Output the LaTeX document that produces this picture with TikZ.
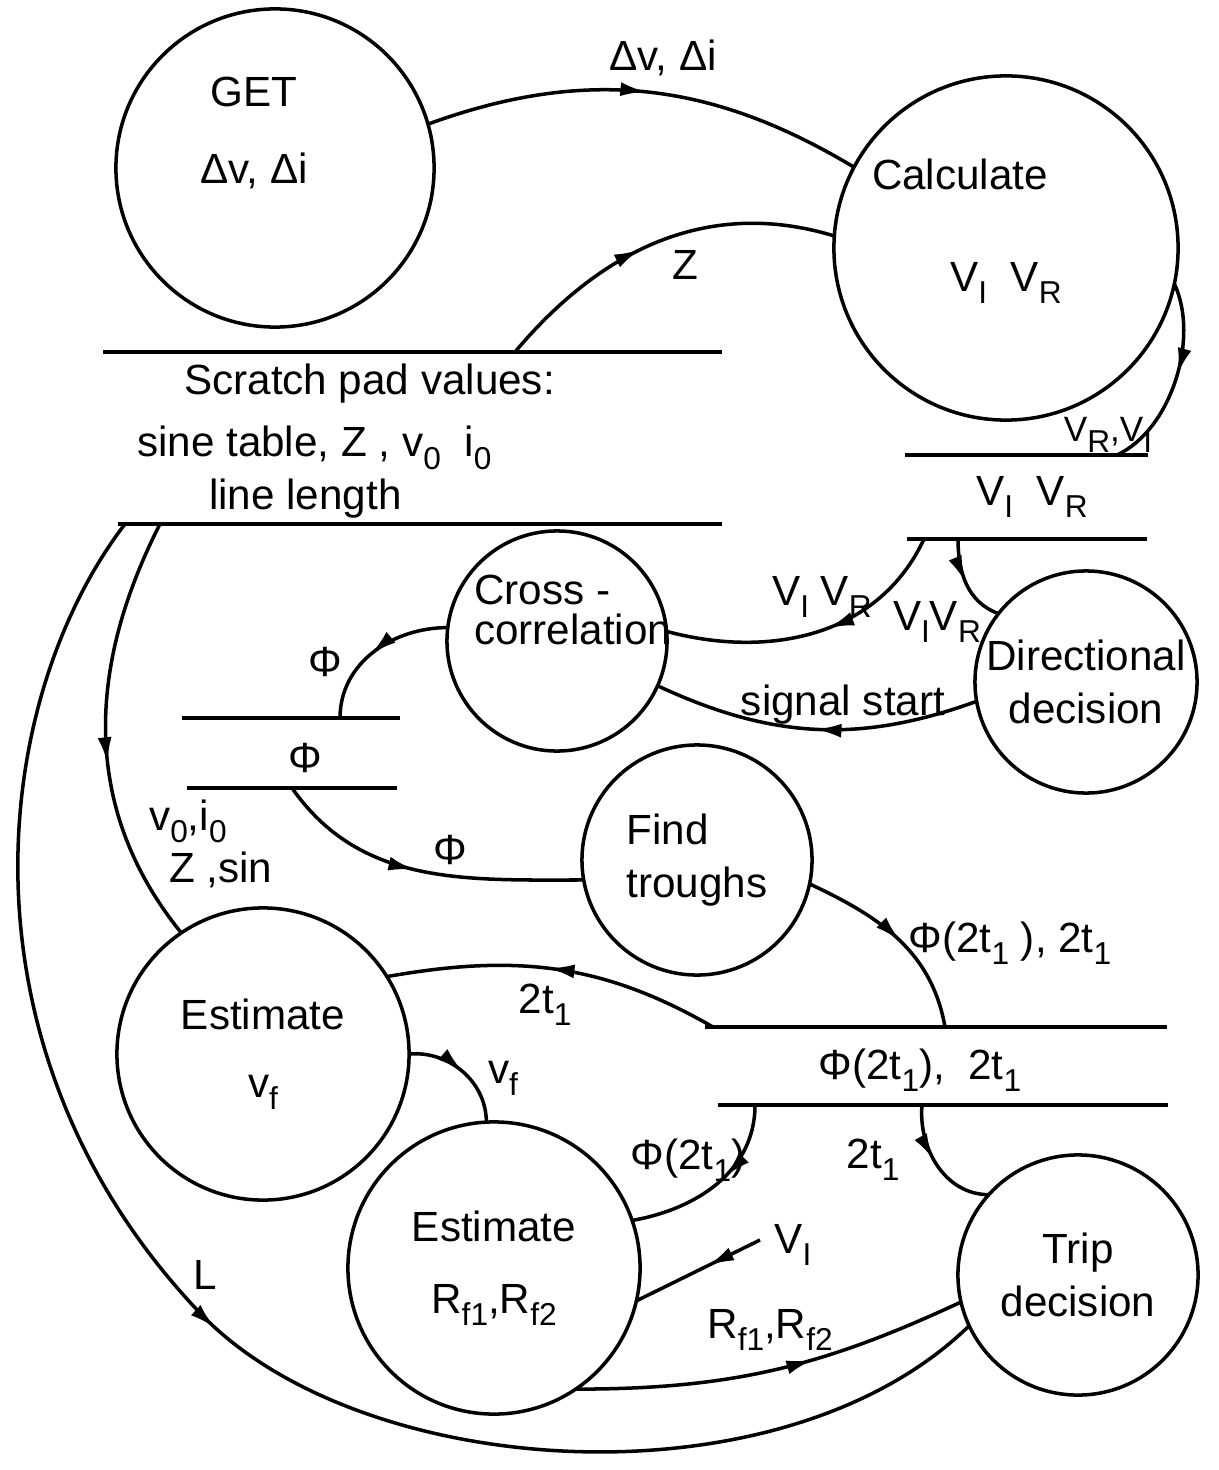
\documentclass[tikz,border=0pt]{standalone}
\usepackage{fontspec}
\setmainfont{Liberation Sans}
\usetikzlibrary{arrows.meta,decorations.markings}
\newcommand{\sbs}[1]{\raisebox{-0.55ex}{\fontsize{9}{10}\selectfont #1}}

\begin{document}
\begin{tikzpicture}[
    x=0.01cm, y=-0.01cm,
    font=\fontsize{12}{15}\selectfont,
    % processes, stores and labels
    proc/.style={circle, draw, line width=1pt, inner sep=0pt, outer sep=0pt, align=center},
    store/.style={draw, line width=1.1pt},
    lbl/.style={inner sep=1pt, align=center},
    % data flows with an arrow on the way
    flow/.style={draw, line width=1pt, postaction={decorate, decoration={markings,
        mark=at position #1 with {\arrow{Latex[length=2.6mm, width=1.4mm]}}}}},
    flow/.default=0.5,
]
\useasboundingbox (0,0) rectangle (1219,1470);

% =========================================================
% Data stores
% =========================================================
% scratch pad
\draw[store] (103,352) -- (722,352);
\draw[store] (118,524) -- (722,524);
\node[lbl, anchor=west, align=left] (padtxt) at (133,441)
    {\hspace{0.47cm}Scratch pad values:\\[0.1cm]
     sine table, Z , v\sbs{0}\ \ i\sbs{0}\\
     \hspace{0.72cm}line length};

% V_I V_R
\draw[store] (905,455) -- (1148,455);
\draw[store] (907,539) -- (1147,539);
\node[lbl] (vstxt) at (1032,497) {V\sbs{I}\ \ V\sbs{R}};

% phi
\draw[store] (182,718) -- (400,718);
\draw[store] (187,788) -- (397,788);
\node[lbl] (phitxt) at (305,758) {Φ};

% troughs
\draw[store] (705,1027) -- (1167,1027);
\draw[store] (718,1105) -- (1168,1105);
\node[lbl] (trtxt) at (920,1070) {Φ(2t\sbs{1}),\ \ 2t\sbs{1}};

% taps on the store lines
\coordinate (padZ)  at (515,352);
\coordinate (padL)  at (125,524);
\coordinate (padV)  at (160,524);
\coordinate (vsIn)  at (1117,455);
\coordinate (vsXc)  at (924,539);
\coordinate (vsDir) at (958,539);
\coordinate (phiIn) at (340,718);
\coordinate (phiOut) at (292,788);
\coordinate (trIn)  at (945,1027);
\coordinate (trT)   at (713,1027);
\coordinate (trPhi) at (755,1105);
\coordinate (trTt)  at (922,1105);
\coordinate (vI)    at (760,1240);

% =========================================================
% Processes
% =========================================================
\node[proc, minimum size=3.18cm] (get) at (275,168) {};
\node[lbl] (gettxt) at (254,133) {GET\\[0.24cm]Δv, Δi};

\node[proc, minimum size=3.44cm] (calc) at (1006,248) {};
\node[lbl] (calctxt) at (960,174) {Calculate};
\node[lbl] (calcv) at (1006,283) {V\sbs{I}\ \ V\sbs{R}};

\node[proc, minimum size=2.2cm] (xc) at (557,641) {};
\node[lbl, anchor=west, align=left] (xctxt) at (470,610) {Cross -\\[-0.12cm]correlation};

\node[proc, minimum size=2.22cm] (dir) at (1086,682) {Directional\\decision};
\node[proc, minimum size=2.3cm, align=left] (ft) at (697,860) {Find\\troughs};
\node[proc, minimum size=2.92cm] (ev) at (263,1054) {Estimate\\[0.15cm]v\sbs{f}};
\node[proc, minimum size=2.92cm] (rf) at (494,1268) {Estimate\\[0.19cm]R\sbs{f1},R\sbs{f2}};
\node[proc, minimum size=2.4cm] (trip) at (1078,1275) {Trip\\decision};

% =========================================================
% Data flows
% =========================================================
\draw[flow=0.5] (get.16) to[out=20, in=149] (calc.152);
\node[lbl] (labDv) at (663,58) {Δv, Δi};

\draw[flow=0.45] (padZ) to[out=50, in=163] (calc.176);
\node[lbl] (labZ) at (685,265) {Z};

\draw[flow=0.47] (calc.-12) to[out=-65, in=25, looseness=0.85] (vsIn);
\node[lbl, font=\fontsize{10}{12}\selectfont] (labVR) at (1108,435) {V\sbs{R},V\sbs{I}};

\draw[flow=0.45] (vsXc) to[out=-115, in=-15] (xc.5);
\node[lbl] (labXc) at (822,597) {V\sbs{I} V\sbs{R}};

\draw[flow=0.48] (vsDir) to[out=-90, in=160] (dir.142);
\node[lbl] (labDir) at (937,622) {V\sbs{I}V\sbs{R}};

\draw[flow=0.5] (dir.190) to[out=200, in=-25] (xc.-24);
\node[lbl] (labSig) at (843,705) {signal start};

\draw[flow=0.53] (xc.173) to[out=180, in=90] (phiIn);
\node[lbl] (labPhiA) at (325,662) {Φ};

\draw[flow=0.47] (phiOut) to[out=-55, in=180] (ft.190);
\node[lbl] (labPhiB) at (450,850) {Φ};

\draw[flow=0.52] (ft.-12) to[out=-25, in=100] (trIn);
\node[lbl] (labTr) at (1010,943) {Φ(2t\sbs{1} ), 2t\sbs{1}};

\draw[flow=0.52] (trT) to[out=150, in=10] (ev.32);
\node[lbl] (labTa) at (545,1005) {2t\sbs{1}};

\draw[flow=0.5] (ev.0) to[out=5, in=90] (rf.93);
\node[lbl] (labVf) at (503,1078) {v\sbs{f}};

\draw[flow=0.43] (trPhi) to[out=-90, in=10] (rf.19);
\node[lbl] (labPhiT) at (688,1160) {Φ(2t\sbs{1})};

\draw[flow=0.45] (trTt) to[out=-95, in=180] (trip.138);
\node[lbl] (labTb) at (873,1160) {2t\sbs{1}};

\draw[flow=0.42] (vI) -- (rf.-13);
\node[lbl] (labVI) at (793,1245) {V\sbs{I}};

\draw[flow=0.6] (rf.-56) to[out=0, in=205] (trip.193);
\node[lbl] (labRf) at (770,1330) {R\sbs{f1},R\sbs{f2}};

\draw[flow=0.57] (padV) to[out=-117, in=129] (ev.124);
\node[lbl, anchor=west, align=left] (labV0) at (145,844) {v\sbs{0},i\sbs{0}\\\hspace{0.2cm}Z ,sin};

\draw[flow=0.52] (padL) .. controls (-10,700) and (-50,1050) .. (200,1313)
    .. controls (360,1481) and (780,1510) .. (trip.205);
\node[lbl] (labL) at (205,1275) {L};

\end{tikzpicture}
\end{document}
